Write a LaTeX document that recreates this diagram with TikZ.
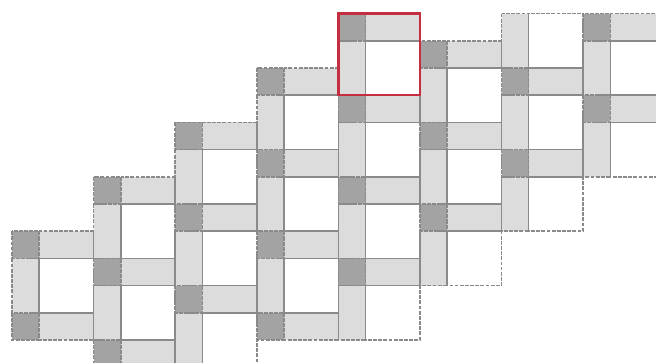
\documentclass[tikz,border=0pt]{standalone}
\usepackage{tikz}
\definecolor{tdark}{HTML}{A3A3A3}
\definecolor{tlight}{HTML}{DCDCDC}
\definecolor{tline}{HTML}{8A8A8A}
\definecolor{tred}{HTML}{C62E3F}
\tikzset{tile/.style={draw=tline, line width=0.8pt, dash pattern=on 2pt off 0.7pt}}

\begin{document}
\begin{tikzpicture}[x=0.5cm, y=-0.5cm]
  \useasboundingbox (0,0) rectangle (24.12,13.31);
  \clip (0,0) rectangle (24.12,13.31);
  \begin{scope}[shift={(0.44,0.5)}]
  % pass 0 fills the pieces, pass 1 outlines them
  \foreach \pass in {0,1}{
  \foreach \k/\ytop/\ybot in {0/8/12, 1/6/14, 2/4/14, 3/2/12, 4/0/12, 5/1/10, 6/0/8, 7/0/6}{
    \foreach \m in {0,...,3}{
      \pgfmathtruncatemacro{\yd}{8-2*\k+3*\m}
      \pgfmathtruncatemacro{\thin}{and(\yd>=\ytop, \yd+1<=\ybot)}
      \pgfmathtruncatemacro{\thick}{and(\yd+1>=\ytop, \yd+3<=\ybot)}
      \ifnum\pass=0
        \ifnum\thin=1
          \fill[tdark] (3*\k, \yd) rectangle ++(1,1);
          \fill[tlight] (3*\k+1, \yd) rectangle ++(2,1);
        \fi
        \ifnum\thick=1
          \fill[tlight] (3*\k, \yd+1) rectangle ++(1,2);
          \fill[white] (3*\k+1, \yd+1) rectangle ++(2,2);
        \fi
      \else
        \ifnum\thin=1
          \draw[tile] (3*\k, \yd) rectangle ++(1,1);
          \draw[tile] (3*\k+1, \yd) rectangle ++(2,1);
        \fi
        \ifnum\thick=1
          \draw[tile] (3*\k, \yd+1) rectangle ++(1,2);
          \draw[tile] (3*\k+1, \yd+1) rectangle ++(2,2);
        \fi
      \fi
    }
  }
  }
  % highlighted unit
  \draw[tred, line width=1.3pt] (12,0) rectangle (15,3);
  \end{scope}
\end{tikzpicture}
\end{document}
